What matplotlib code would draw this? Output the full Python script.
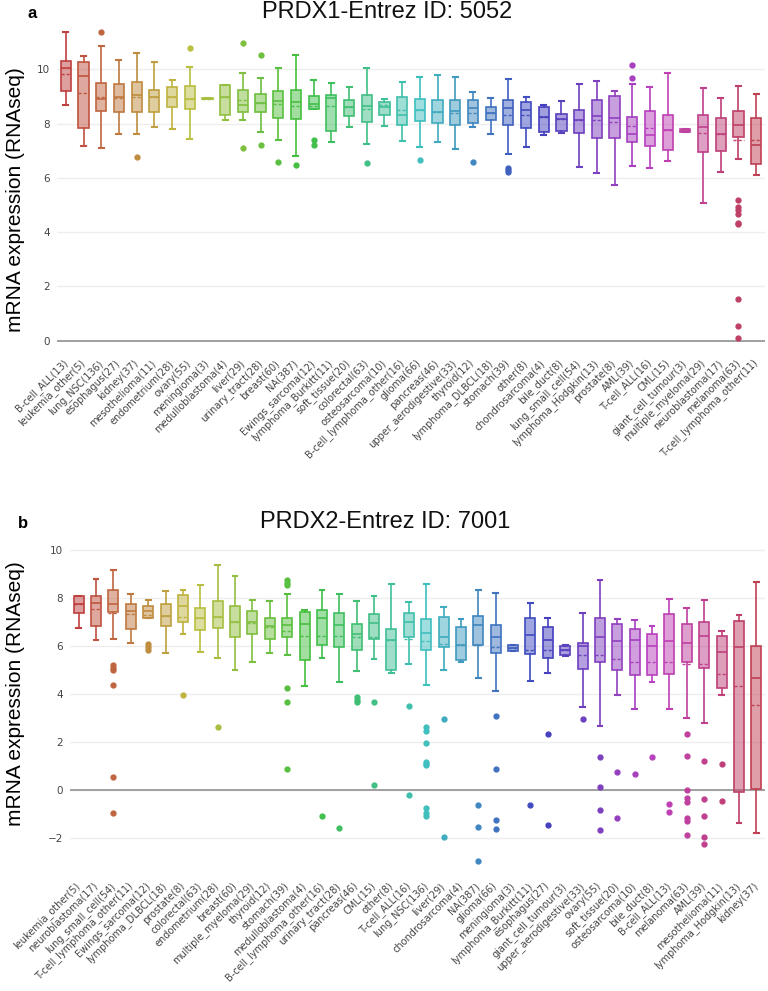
import colorsys
import matplotlib
matplotlib.use("Agg")
import matplotlib.pyplot as plt

# ---- panel a: PRDX1 ----
labels_a = ["B-cell_ALL(13)", "leukemia_other(5)", "lung_NSC(136)", "esophagus(27)", "kidney(37)",
            "mesothelioma(11)", "endometrium(28)", "ovary(55)", "meningioma(3)", "medulloblastoma(4)",
            "liver(29)", "urinary_tract(28)", "breast(60)", "NA(387)", "Ewings_sarcoma(12)",
            "lymphoma_Burkitt(11)", "soft_tissue(20)", "colorectal(63)", "osteosarcoma(10)",
            "B-cell_lymphoma_other(16)", "glioma(66)", "pancreas(46)", "upper_aerodigestive(33)",
            "thyroid(12)", "lymphoma_DLBCL(18)", "stomach(39)", "other(8)", "chondrosarcoma(4)",
            "bile_duct(8)", "lung_small_cell(54)", "lymphoma_Hodgkin(13)", "prostate(8)", "AML(39)",
            "T-cell_ALL(16)", "CML(15)", "giant_cell_tumour(3)", "multiple_myeloma(29)",
            "neuroblastoma(17)", "melanoma(63)", "T-cell_lymphoma_other(11)"]
whishi_a = [11.39, 10.48, 10.85, 10.34, 10.59, 10.27, 9.62, 10.10, 8.93, 9.42,
            9.88, 9.68, 10.06, 10.52, 9.61, 9.48, 9.34, 10.06, 8.89, 9.52,
            9.71, 9.80, 9.71, 9.15, 8.94, 9.63, 8.99, 8.70, 8.82, 9.46,
            9.56, 9.19, 9.46, 9.34, 9.88, 7.80, 9.31, 8.93, 9.40, 9.09]
q3_a = [10.32, 10.26, 9.48, 9.45, 9.52, 9.24, 9.36, 9.40, 8.93, 9.42,
        9.24, 9.10, 9.20, 9.24, 9.03, 9.05, 8.87, 9.05, 8.81, 8.99,
        8.89, 8.85, 8.87, 8.87, 8.60, 8.87, 8.78, 8.60, 8.35, 8.50,
        8.88, 9.02, 8.23, 8.48, 8.33, 7.80, 8.33, 8.21, 8.48, 8.21]
med_a = [10.04, 9.74, 8.91, 8.96, 9.04, 8.99, 8.96, 8.91, 8.91, 8.96,
         8.69, 8.77, 8.83, 8.78, 8.73, 8.93, 8.62, 8.66, 8.62, 8.32,
         8.50, 8.42, 8.48, 8.58, 8.39, 8.56, 8.50, 8.23, 8.17, 8.13,
         8.26, 8.21, 7.62, 7.58, 7.78, 7.74, 7.87, 7.62, 7.96, 7.22]
mean_a = [9.83, 9.12, 8.99, 8.95, 8.96, 8.99, 8.96, 8.91, 8.91, 8.96,
          8.87, 8.77, 8.71, 8.65, 8.65, 8.65, 8.62, 8.54, 8.69, 8.50,
          8.50, 8.42, 8.38, 8.38, 8.39, 8.33, 8.32, 8.23, 8.17, 8.13,
          8.13, 8.05, 7.90, 7.83, 7.78, 7.74, 7.67, 7.62, 7.40, 7.40]
q1_a = [9.20, 7.83, 8.48, 8.42, 8.44, 8.44, 8.60, 8.53, 8.89, 8.32,
        8.44, 8.42, 8.19, 8.17, 8.55, 7.73, 8.28, 8.07, 8.32, 7.96,
        8.11, 8.03, 7.96, 8.02, 8.13, 7.96, 7.84, 7.70, 7.74, 7.64,
        7.48, 7.48, 7.31, 7.17, 7.01, 7.68, 6.94, 6.98, 7.49, 6.51]
whislo_a = [8.69, 7.17, 7.10, 7.62, 7.62, 7.89, 7.80, 7.42, 8.89, 8.13,
            8.13, 7.70, 7.40, 6.80, 8.55, 7.33, 7.89, 7.24, 7.91, 7.37,
            7.13, 7.33, 7.05, 7.86, 7.62, 6.88, 7.15, 7.56, 7.67, 6.39,
            6.17, 5.74, 6.44, 6.35, 6.63, 7.68, 5.07, 6.20, 6.68, 6.12]
fliers_a = [[], [], [11.39], [], [6.78], [], [], [10.77], [], [],
            [10.98, 7.09], [10.52, 7.20], [6.57], [6.47], [7.40, 7.21], [], [], [6.56], [], [],
            [6.67], [], [], [6.57], [], [6.35, 6.28, 6.22], [], [], [], [],
            [], [], [10.17, 9.69], [], [], [], [], [],
            [5.18, 4.94, 4.82, 4.67, 4.32, 4.29, 1.52, 0.55, 0.09], []]

# ---- panel b: PRDX2 ----
labels_b = ["leukemia_other(5)", "neuroblastoma(17)", "lung_small_cell(54)", "T-cell_lymphoma_other(11)",
            "Ewings_sarcoma(12)", "lymphoma_DLBCL(18)", "prostate(8)", "colorectal(63)",
            "endometrium(28)", "breast(60)", "multiple_myeloma(29)", "thyroid(12)", "stomach(39)",
            "medulloblastoma(4)", "B-cell_lymphoma_other(16)", "urinary_tract(28)", "pancreas(46)",
            "CML(15)", "other(8)", "T-cell_ALL(16)", "lung_NSC(136)", "liver(29)", "chondrosarcoma(4)",
            "NA(387)", "glioma(66)", "meningioma(3)", "lymphoma_Burkitt(11)", "esophagus(27)",
            "giant_cell_tumour(3)", "upper_aerodigestive(33)", "ovary(55)", "soft_tissue(20)",
            "osteosarcoma(10)", "bile_duct(8)", "B-cell_ALL(13)", "melanoma(63)", "AML(39)",
            "mesothelioma(11)", "lymphoma_Hodgkin(13)", "kidney(37)"]
whishi_b = [8.07, 8.78, 9.15, 8.18, 7.91, 8.29, 8.32, 8.56, 9.36, 8.90,
            7.93, 7.86, 8.16, 7.52, 8.35, 8.16, 7.86, 8.07, 8.57, 7.84,
            8.60, 7.61, 7.13, 8.35, 8.21, 6.03, 7.79, 7.17, 6.06, 7.38,
            8.74, 7.14, 7.10, 6.85, 7.97, 7.59, 7.91, 6.62, 7.31, 8.67]
q3_b = [8.07, 8.07, 8.32, 7.77, 7.66, 7.77, 8.11, 7.60, 7.86, 7.67,
        7.46, 7.18, 7.18, 7.42, 7.52, 7.38, 6.93, 7.32, 6.70, 7.38,
        7.14, 7.21, 6.80, 7.25, 6.88, 6.03, 7.18, 6.80, 5.99, 6.13,
        7.17, 6.91, 6.71, 6.49, 7.32, 6.93, 6.98, 6.42, 7.03, 6.01]
med_b = [7.73, 7.81, 7.77, 7.46, 7.46, 7.24, 7.66, 7.17, 7.21, 7.00,
         7.00, 6.85, 6.89, 6.93, 7.17, 6.89, 6.49, 6.96, 6.27, 7.00,
         6.56, 6.38, 6.06, 6.87, 6.37, 5.91, 6.44, 6.26, 5.83, 5.99,
         6.38, 6.20, 6.24, 6.01, 6.21, 6.14, 6.41, 5.76, 5.94, 4.66]
mean_b = [7.73, 7.56, 7.38, 7.32, 7.28, 7.24, 7.21, 7.17, 7.21, 7.00,
          6.96, 6.80, 6.63, 6.42, 6.41, 6.41, 6.38, 6.38, 6.27, 6.30,
          6.20, 6.10, 6.06, 6.03, 5.96, 5.91, 5.83, 5.85, 5.83, 5.62,
          5.62, 5.45, 5.34, 5.34, 5.34, 5.27, 5.24, 4.85, 4.33, 3.54]
q1_b = [7.38, 6.84, 7.42, 6.71, 7.17, 6.82, 6.98, 6.66, 6.75, 6.38,
        6.52, 6.28, 6.38, 5.41, 6.03, 5.95, 5.85, 6.31, 4.99, 6.38,
        5.85, 5.94, 5.41, 6.06, 5.71, 5.78, 5.66, 5.48, 5.63, 5.03,
        5.34, 4.99, 4.81, 4.81, 4.85, 5.34, 5.10, 4.27, -0.10, 0.06]
whislo_b = [6.75, 6.24, 6.28, 6.14, 7.17, 5.71, 6.49, 5.77, 5.49, 4.99,
            5.33, 5.69, 5.63, 4.34, 5.48, 4.49, 4.95, 5.45, 4.88, 5.23,
            4.38, 4.98, 5.35, 4.66, 4.12, 5.78, 4.55, 4.88, 5.58, 3.47,
            2.68, 3.95, 3.37, 4.49, 3.37, 2.98, 2.80, 3.95, -1.36, -1.78]
fliers_b = [[], [], [5.20, 5.09, 5.00, 4.37, 0.55, -0.94], [], [6.07, 5.96, 5.85],
            [], [3.94], [], [2.62], [],
            [], [], [8.74, 8.63, 8.53, 4.27, 3.66, 0.89], [], [-1.07],
            [-1.60], [3.86, 3.77, 3.68], [3.66, 0.21], [], [3.51, -0.21],
            [2.64, 2.47, 1.97, 1.18, 1.08, 1.03, -0.76, -0.97, -1.07], [2.97, -1.94], [],
            [-0.61, -1.55, -2.94], [3.08, 0.86, -1.25, -1.64],
            [], [-0.61], [2.34, -1.46], [], [2.94],
            [1.36, 0.14, -0.83, -1.66], [0.76, -1.18], [0.65], [1.36], [-0.58, -0.90],
            [2.32, 1.41, 0.0, -0.35, -0.51, -1.18, -1.28, -1.89],
            [1.22, -0.39, -1.07, -1.94, -2.25], [1.08, -0.44], [], []]

W, H = 768, 991
TICK_FONT = "DejaVu Sans"
TITLE_FONT = "Liberation Sans"


def draw_panel(ax, labels, whislo, q1, med, mean, q3, whishi, fliers, xpad):
    n = len(labels)
    stats = []
    for i in range(n):
        stats.append(dict(label=labels[i], whislo=whislo[i], q1=q1[i], med=med[i],
                          mean=mean[i], q3=q3[i], whishi=whishi[i], fliers=fliers[i]))
    art = ax.bxp(stats, positions=list(range(n)), widths=0.58, capwidths=0.28,
                 patch_artist=True, showmeans=True, meanline=True, showfliers=True)
    for i in range(n):
        c = colorsys.hls_to_rgb(i / n, 0.5, 0.5)
        art["boxes"][i].set(facecolor=(*c, 0.5), edgecolor=c, linewidth=1.2)
        for k in (2 * i, 2 * i + 1):
            art["whiskers"][k].set(color=c, linewidth=1.2)
            art["caps"][k].set(color=c, linewidth=1.5)
        art["medians"][i].set(color=c, linewidth=1.2)
        art["means"][i].set(color=c, linewidth=1.0, linestyle=(0, (2.2, 1.5)))
        art["fliers"][i].set(marker="o", markerfacecolor=c, markeredgecolor=c,
                             markersize=3.5, linestyle="none")

    ax.set_xlim(-0.5, n - 0.5)
    ax.set_xticks(range(n))
    ax.set_xticklabels(labels, rotation=45, ha="right", va="center", rotation_mode="anchor",
                       fontsize=7, color="#444444", family=TICK_FONT)
    ax.tick_params(axis="x", length=0, pad=xpad)
    ax.tick_params(axis="y", length=0, pad=5, labelsize=7.5, labelcolor="#444444")
    for s in ax.spines.values():
        s.set_visible(False)
    ax.grid(axis="y", color="#eeeeee", linewidth=1.0)
    ax.set_axisbelow(True)
    ax.axhline(0, color="#999999", linewidth=1.3, zorder=1)


fig = plt.figure(figsize=(W / 100, H / 100), dpi=100)

ax_a = fig.add_axes([57 / W, 1 - 342 / H, 708 / W, 317.5 / H])
draw_panel(ax_a, labels_a, whislo_a, q1_a, med_a, mean_a, q3_a, whishi_a, fliers_a, 14)
ax_a.set_ylim(-0.05, 11.65)
ax_a.set_yticks([0, 2, 4, 6, 8, 10])
for t in ax_a.get_yticklabels():
    t.set_family(TICK_FONT)

ax_b = fig.add_axes([70 / W, 1 - 866.8 / H, 695 / W, 326.4 / H])
draw_panel(ax_b, labels_b, whislo_b, q1_b, med_b, mean_b, q3_b, whishi_b, fliers_b, 12.5)
ax_b.set_ylim(-3.2, 10.4)
ax_b.set_yticks([-2, 0, 2, 4, 6, 8, 10])
ax_b.set_yticklabels(["\u22122", "0", "2", "4", "6", "8", "10"])
for t in ax_b.get_yticklabels():
    t.set_family(TICK_FONT)

fig.text(387 / W, 1 - 18 / H, "PRDX1-Entrez ID: 5052", ha="center", va="baseline",
         fontsize=17, family=TITLE_FONT, color="#111111")
fig.text(385 / W, 1 - 528 / H, "PRDX2-Entrez ID: 7001", ha="center", va="baseline",
         fontsize=17, family=TITLE_FONT, color="#111111")
fig.text(28 / W, 1 - 18 / H, "a", ha="left", va="baseline", fontsize=12,
         fontweight="bold", family=TITLE_FONT)
fig.text(18 / W, 1 - 528 / H, "b", ha="left", va="baseline", fontsize=12,
         fontweight="bold", family=TITLE_FONT)
fig.text(16 / W, 1 - 200 / H, "mRNA expression (RNAseq)", rotation=90, ha="center",
         va="center", fontsize=15, family=TITLE_FONT)
fig.text(16 / W, 1 - 694 / H, "mRNA expression (RNAseq)", rotation=90, ha="center",
         va="center", fontsize=15, family=TITLE_FONT)

fig.savefig("out.png", dpi=100)
